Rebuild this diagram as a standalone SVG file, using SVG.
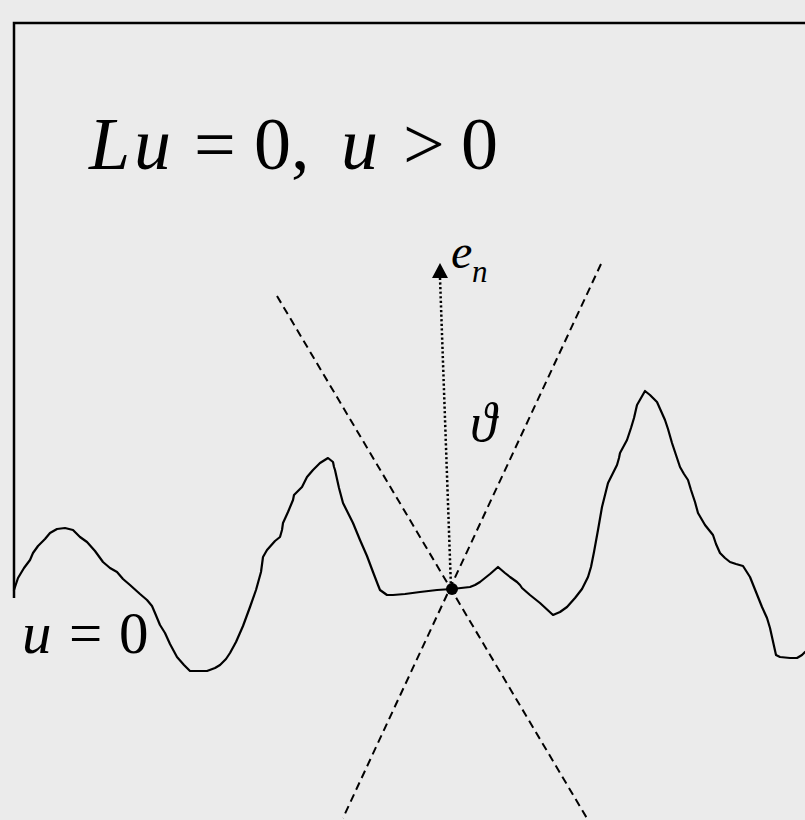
<svg xmlns="http://www.w3.org/2000/svg" width="805" height="820" viewBox="0 0 805 820">
<defs>
<style>
.math{font-family:"Liberation Serif",serif;fill:#000}
.greek{font-family:"Liberation Serif","DejaVu Serif",serif;fill:#000}
.it{font-style:italic}
.dash{stroke:#000;stroke-width:2;stroke-dasharray:8 5;fill:none}
.dot{stroke:#000;stroke-width:2.5;stroke-dasharray:2.2 2.4;fill:none}
.curve{stroke:#000;stroke-width:2.2;fill:none;stroke-linejoin:round;stroke-linecap:round}
.frame{stroke:#000;stroke-width:2.5;fill:none}
</style>
</defs>
<rect x="0" y="0" width="805" height="820" fill="#ebebeb"/>
<g id="frame">
<polyline class="frame" points="14,598 14,23 805,23"/>
</g>
<g id="boundary">
<polyline class="curve" points="14,590 18,578 24,568 30,560 33,553 38,546 45,539 50,533 57,529 65,528 73,530 80,537 87,542 95,551 103,562 110,568 117,572 123,579 130,585 140,594 147,600 152,606 155,613 160,625 165,633 170,644 177,657 184,665 190,671 207,671 215,668 220,665 226,659 230,653 236,642 243,626 250,607 256,590 261,572 263,557 267,550 275,541 280,537 282,530 283,523 288,512 293,500 294,495 302,487 307,477 313,470 320,463 328,458 333,462 334,467 335,470 339,488 343,503 349,515 353,523 360,540 367,556 373,572 378,585 380,590 387,595 393,595 405,594 420,592 437,590 452,589 470,587 475,585 480,582 490,574 498,567 505,573 510,577 517,582 520,585 522,588 530,595 540,603 553,615 560,612 567,607 575,598 582,589 588,577 591,567 594,552 598,530 602,507 605,495 608,483 613,473 617,465 619,458 620,453 627,440 631,428 634,418 637,405 641,398 645,391 650,395 657,402 661,411 665,420 668,429 672,443 676,455 680,467 684,474 688,480 691,490 695,502 698,513 705,525 709,530 713,535 716,544 720,553 725,558 730,562 736,564 743,566 750,577 756,592 762,607 767,618 770,628 772,637 774,646 776,655 780,657 790,658 797,658 802,655 805,652"/>
</g>
<g id="connectors">
<line class="dash" x1="277" y1="296" x2="588" y2="820"/>
<line class="dash" x1="601" y1="264" x2="343" y2="818"/>
<line class="dot" x1="451" y1="588" x2="440" y2="278"/>
<polygon points="440,263 432,278 448,278" fill="#000"/>
</g>
<g id="point">
<circle cx="452" cy="589" r="6" fill="#000"/>
</g>
<g id="label-equation">
<text class="math" font-size="74" y="169"><tspan class="it" x="89">L</tspan><tspan class="it" x="134">u</tspan><tspan x="194">=</tspan><tspan x="254">0</tspan><tspan x="291">,</tspan><tspan class="it" x="341">u</tspan><tspan x="403">&gt;</tspan><tspan x="461">0</tspan></text>
</g>
<g id="label-en">
<text class="math it" font-size="48" x="451" y="268">e</text>
<text class="math it" font-size="31" x="472" y="282">n</text>
</g>
<g id="label-theta">
<text class="greek it" font-size="54" x="470" y="441">ϑ</text>
</g>
<g id="label-u0">
<text class="math" font-size="59" y="653"><tspan class="it" x="22">u</tspan><tspan x="69">=</tspan><tspan x="119">0</tspan></text>
</g>
</svg>
